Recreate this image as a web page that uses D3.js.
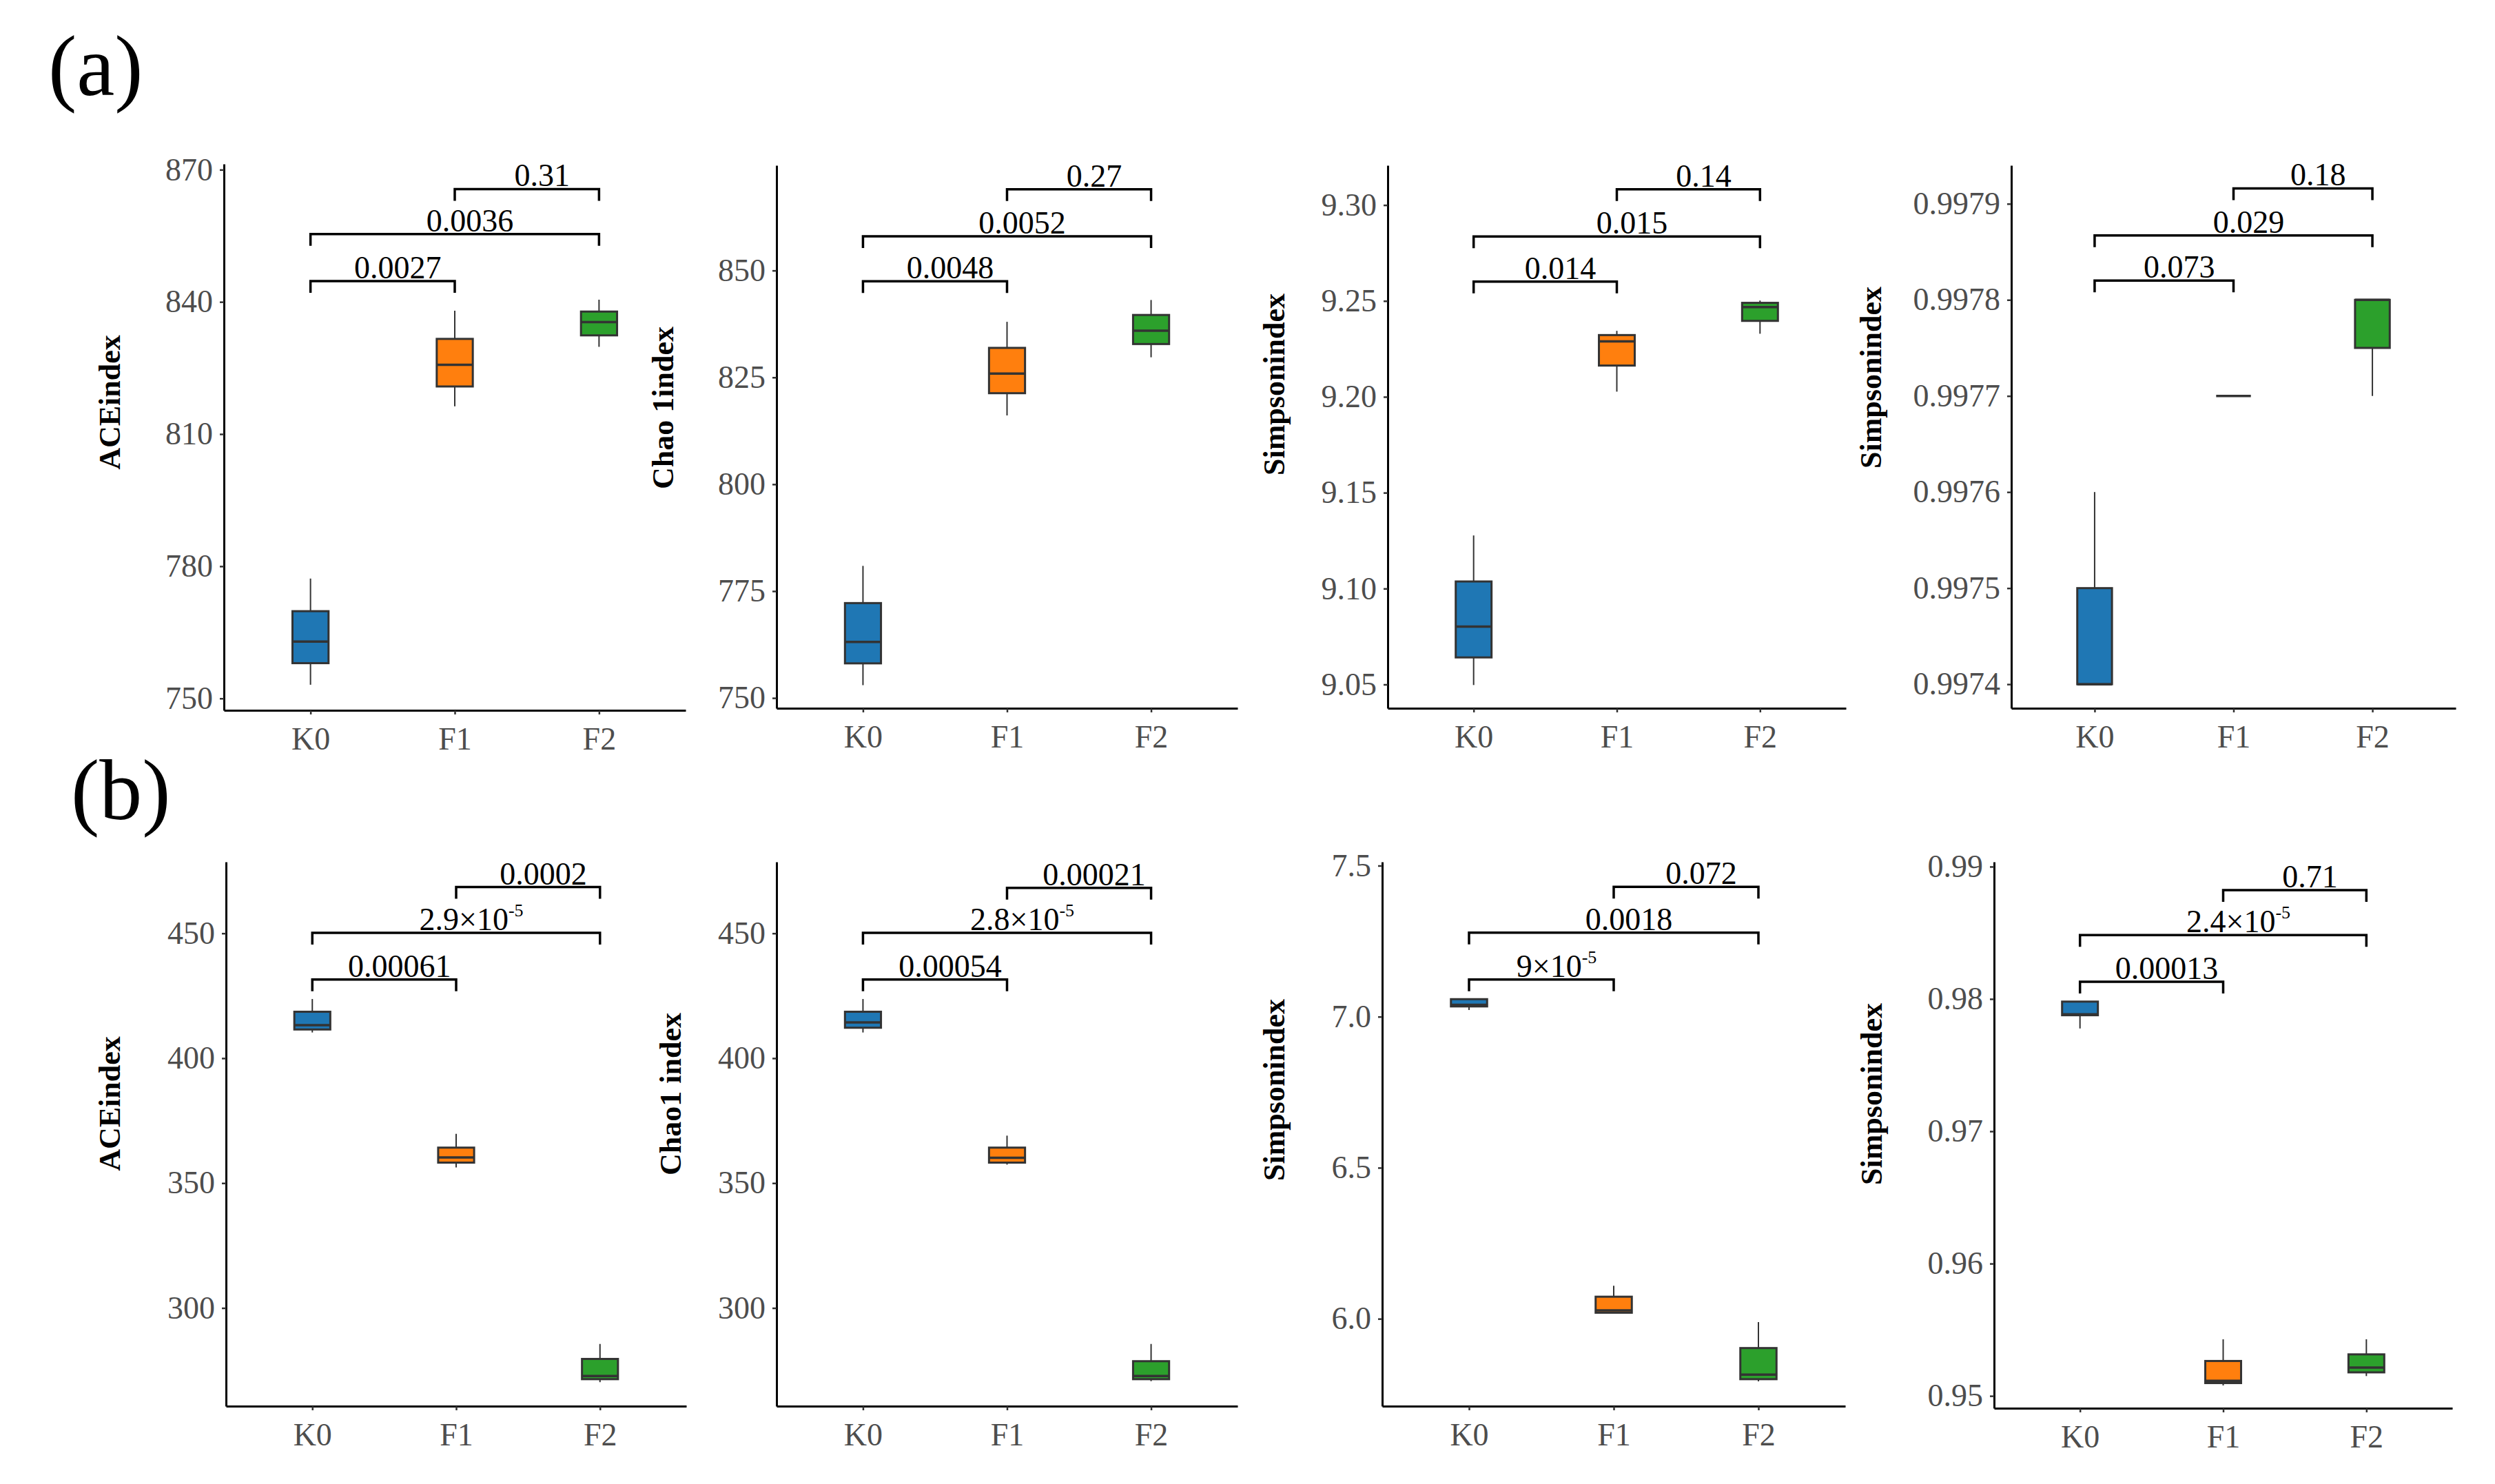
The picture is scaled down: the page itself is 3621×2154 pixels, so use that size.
<!DOCTYPE html>
<html>
<head>
<meta charset="utf-8">
<script src="https://cdn.jsdelivr.net/npm/d3@7"></script>
<style>
  html, body { margin: 0; padding: 0; background: #ffffff; }
  svg { display: block; }
</style>
</head>
<body>
<svg id="chart" width="3621" height="2154"></svg>
<script>
// ---------------- DATA ----------------
const categories = ["K0", "F1", "F2"];
const groupColors = ["#1F77B4", "#FF7F0E", "#2CA02C"];
const comparisons = [["K0", "F1"], ["K0", "F2"], ["F1", "F2"]];

// box statistics per group: [min, q1, median, q3, max]
const aceA = [[753.1, 758.0, 762.9, 769.8, 777.2], [816.3, 820.8, 825.7, 831.6, 838.0], [829.8, 832.4, 835.4, 837.8, 840.5]];
const chaoA = [[753.0, 758.1, 763.1, 772.2, 780.9], [816.1, 821.3, 825.9, 831.9, 838.0], [829.7, 832.8, 835.9, 839.6, 843.1]];
const shannonA = [[9.0497, 9.0641, 9.0802, 9.1037, 9.1277], [9.2027, 9.2163, 9.2289, 9.2322, 9.2344], [9.2329, 9.2396, 9.2468, 9.2490, 9.2502]];
const simpsonA = [[0.9974, 0.9974, 0.9974, 0.9975, 0.9976], [0.9977, 0.9977, 0.9977, 0.9977, 0.9977], [0.9977, 0.99775, 0.9978, 0.9978, 0.9978]];

const aceB = [[410.3, 411.5, 413.2, 418.6, 423.7], [356.3, 358.2, 360.3, 364.2, 369.7], [270.3, 271.5, 272.8, 279.6, 285.6]];
const chaoB = [[410.3, 412.2, 414.3, 418.6, 423.7], [357.4, 358.2, 360.1, 364.2, 369.0], [270.7, 271.5, 272.8, 278.7, 285.6]];
const shannonB = [[7.022, 7.034, 7.039, 7.058, 7.061], [6.020, 6.020, 6.028, 6.073, 6.109], [5.793, 5.800, 5.815, 5.903, 5.989]];
const simpsonB = [[0.97777, 0.97877, 0.97884, 0.9798, 0.97984], [0.95079, 0.95097, 0.95114, 0.95264, 0.95428], [0.9515, 0.95178, 0.95214, 0.95314, 0.95428]];

// p-value labels (K0-F1, K0-F2, F1-F2); "^" marks a superscript exponent
const pAceA = ["0.0027", "0.0036", "0.31"];
const pChaoA = ["0.0048", "0.0052", "0.27"];
const pShannonA = ["0.014", "0.015", "0.14"];
const pSimpsonA = ["0.073", "0.029", "0.18"];
const pAceB = ["0.00061", "2.9×10^-5", "0.0002"];
const pChaoB = ["0.00054", "2.8×10^-5", "0.00021"];
const pShannonB = ["9×10^-5", "0.0018", "0.072"];
const pSimpsonB = ["0.00013", "2.4×10^-5", "0.71"];

// bracket heights in data units
const sigAceA = [844.7, 855.4, 865.6];
const sigChaoA = [847.5, 858.0, 869.0];
const sigShannonA = [9.2601, 9.2836, 9.3082];
const sigSimpsonA = [0.99782, 0.997867, 0.997916];
const sigAceB = [431.5, 450.2, 468.5];
const sigChaoB = [431.5, 450.2, 468.2];
const sigShannonB = [7.123, 7.278, 7.430];
const sigSimpsonB = [0.9813, 0.98483, 0.98822];

// y domains (bottom, top)
const domAceA = [747.3, 871.3];
const domChaoA = [747.6, 874.6];
const domShannonA = [9.0376, 9.3207];
const domSimpsonA = [0.997375, 0.99794];
const domAceB = [260.7, 478.6];
const domChaoB = [260.7, 478.6];
const domShannonB = [5.7107, 7.5125];
const domSimpsonB = [0.94907, 0.99036];

// tick labels
const ticksAceA = [750, 780, 810, 840, 870];
const ticksChaoA = [750, 775, 800, 825, 850];
const ticksShannonA = [9.05, 9.10, 9.15, 9.20, 9.25, 9.30];
const ticksSimpsonA = [0.9974, 0.9975, 0.9976, 0.9977, 0.9978, 0.9979];
const ticksAceB = [300, 350, 400, 450];
const ticksChaoB = [300, 350, 400, 450];
const ticksShannonB = [6.0, 6.5, 7.0, 7.5];
const ticksSimpsonB = [0.95, 0.96, 0.97, 0.98, 0.99];

const titlesA = ["ACEindex", "Chao 1index", "Simpsonindex", "Simpsonindex"];
const titlesB = ["ACEindex", "Chao1 index", "Simpsonindex", "Simpsonindex"];
const panelTags = ["(a)", "(b)"];

// ---------------- LAYOUT ----------------
const FONT = "'Liberation Serif', 'Times New Roman', serif";
const panels = [
  { stats: aceA, p: pAceA, sig: sigAceA, dom: domAceA, ticks: ticksAceA, fmt: d3.format("d"), title: titlesA[0],
    box: { l: 325, r: 995, t: 238, b: 1031 }, titleX: 159, titleY: 584 },
  { stats: chaoA, p: pChaoA, sig: sigChaoA, dom: domChaoA, ticks: ticksChaoA, fmt: d3.format("d"), title: titlesA[1],
    box: { l: 1127, r: 1796, t: 240, b: 1028 }, titleX: 962, titleY: 592 },
  { stats: shannonA, p: pShannonA, sig: sigShannonA, dom: domShannonA, ticks: ticksShannonA, fmt: d3.format(".2f"), title: titlesA[2],
    box: { l: 2014, r: 2679, t: 240, b: 1028 }, titleX: 1849, titleY: 558 },
  { stats: simpsonA, p: pSimpsonA, sig: sigSimpsonA, dom: domSimpsonA, ticks: ticksSimpsonA, fmt: d3.format(".4f"), title: titlesA[3],
    box: { l: 2919, r: 3564, t: 240, b: 1028 }, titleX: 2715, titleY: 548 },
  { stats: aceB, p: pAceB, sig: sigAceB, dom: domAceB, ticks: ticksAceB, fmt: d3.format("d"), title: titlesB[0],
    box: { l: 328, r: 996, t: 1251, b: 2041 }, titleX: 159, titleY: 1602 },
  { stats: chaoB, p: pChaoB, sig: sigChaoB, dom: domChaoB, ticks: ticksChaoB, fmt: d3.format("d"), title: titlesB[1],
    box: { l: 1127, r: 1796, t: 1251, b: 2041 }, titleX: 973, titleY: 1588 },
  { stats: shannonB, p: pShannonB, sig: sigShannonB, dom: domShannonB, ticks: ticksShannonB, fmt: d3.format(".1f"), title: titlesB[2],
    box: { l: 2006, r: 2678, t: 1251, b: 2041 }, titleX: 1849, titleY: 1582 },
  { stats: simpsonB, p: pSimpsonB, sig: sigSimpsonB, dom: domSimpsonB, ticks: ticksSimpsonB, fmt: d3.format(".2f"), title: titlesB[3],
    box: { l: 2894, r: 3559, t: 1251, b: 2044 }, titleX: 2716, titleY: 1588 }
];
const tagPos = [{ x: 70, y: 138 }, { x: 103, y: 1189 }];

const svg = d3.select("#chart");
svg.append("rect").attr("width", 3621).attr("height", 2154).attr("fill", "#ffffff");

// panel tags
svg.selectAll("text.tag").data(panelTags).join("text")
  .attr("class", "tag")
  .attr("x", (d, i) => tagPos[i].x).attr("y", (d, i) => tagPos[i].y)
  .attr("font-family", FONT).attr("font-size", 124).attr("fill", "#000")
  .text(d => d);

panels.forEach(pn => {
  const B = pn.box;
  const g = svg.append("g");
  const x = d3.scalePoint().domain(categories).range([B.l, B.r]).padding(0.6);
  const y = d3.scaleLinear().domain(pn.dom).range([B.b, B.t]);
  const step = x.step();
  const bw = step * 0.25;

  // y axis
  const ya = g.append("g").attr("transform", `translate(${B.l},0)`)
    .call(d3.axisLeft(y).tickValues(pn.ticks).tickFormat(pn.fmt).tickSize(6).tickSizeOuter(0).tickPadding(10));
  ya.select(".domain").attr("stroke", "#000").attr("stroke-width", 3);
  ya.selectAll(".tick line").attr("stroke", "#333").attr("stroke-width", 2.5);
  ya.selectAll(".tick text").attr("font-family", FONT).attr("font-size", 46).attr("fill", "#4D4D4D");

  // x axis
  const xa = g.append("g").attr("transform", `translate(0,${B.b})`)
    .call(d3.axisBottom(x).tickSize(6).tickSizeOuter(0).tickPadding(18));
  xa.select(".domain").attr("stroke", "#000").attr("stroke-width", 3);
  xa.selectAll(".tick line").attr("stroke", "#333").attr("stroke-width", 2.5);
  xa.selectAll(".tick text").attr("font-family", FONT).attr("font-size", 46).attr("fill", "#4D4D4D");

  // y title
  g.append("text")
    .attr("transform", `translate(${pn.titleX},${pn.titleY}) rotate(-90)`)
    .attr("text-anchor", "middle").attr("dominant-baseline", "central")
    .attr("font-family", FONT).attr("font-size", 44).attr("font-weight", "bold").attr("fill", "#000")
    .text(pn.title);

  // boxplots
  const boxes = g.selectAll("g.bx").data(pn.stats).join("g").attr("class", "bx");
  boxes.append("line")
    .attr("x1", (d, i) => x(categories[i])).attr("x2", (d, i) => x(categories[i]))
    .attr("y1", d => y(d[0])).attr("y2", d => y(d[1]))
    .attr("stroke", "#333").attr("stroke-width", 2);
  boxes.append("line")
    .attr("x1", (d, i) => x(categories[i])).attr("x2", (d, i) => x(categories[i]))
    .attr("y1", d => y(d[3])).attr("y2", d => y(d[4]))
    .attr("stroke", "#333").attr("stroke-width", 2);
  boxes.append("rect")
    .attr("x", (d, i) => x(categories[i]) - bw / 2).attr("width", bw)
    .attr("y", d => y(d[3])).attr("height", d => Math.max(0, y(d[1]) - y(d[3])))
    .attr("fill", (d, i) => groupColors[i]).attr("stroke", "#333").attr("stroke-width", 3);
  boxes.append("line")
    .attr("x1", (d, i) => x(categories[i]) - bw / 2).attr("x2", (d, i) => x(categories[i]) + bw / 2)
    .attr("y1", d => y(d[2])).attr("y2", d => y(d[2]))
    .attr("stroke", "#333").attr("stroke-width", 3.5);

  // significance brackets
  const tip = 17;
  const br = g.selectAll("g.sig").data(comparisons.map((c, i) => ({ c, y: pn.sig[i], label: pn.p[i] })))
    .join("g").attr("class", "sig");
  br.append("path")
    .attr("d", d => {
      const x1 = x(d.c[0]), x2 = x(d.c[1]), yy = y(d.y);
      return `M${x1},${yy + tip}V${yy}H${x2}V${yy + tip}`;
    })
    .attr("fill", "none").attr("stroke", "#000").attr("stroke-width", 3.5);
  br.each(function (d) {
    const cx = (x(d.c[0]) + x(d.c[1])) / 2 + 22;
    const t = d3.select(this).append("text")
      .attr("x", cx).attr("y", y(d.y) - 4)
      .attr("text-anchor", "middle")
      .attr("font-family", FONT).attr("font-size", 46).attr("fill", "#000");
    const parts = d.label.split("^");
    t.append("tspan").text(parts[0]);
    if (parts.length > 1) {
      t.append("tspan").attr("font-size", 26).attr("dy", -20).text(parts[1]);
    }
  });
});
</script>
</body>
</html>
